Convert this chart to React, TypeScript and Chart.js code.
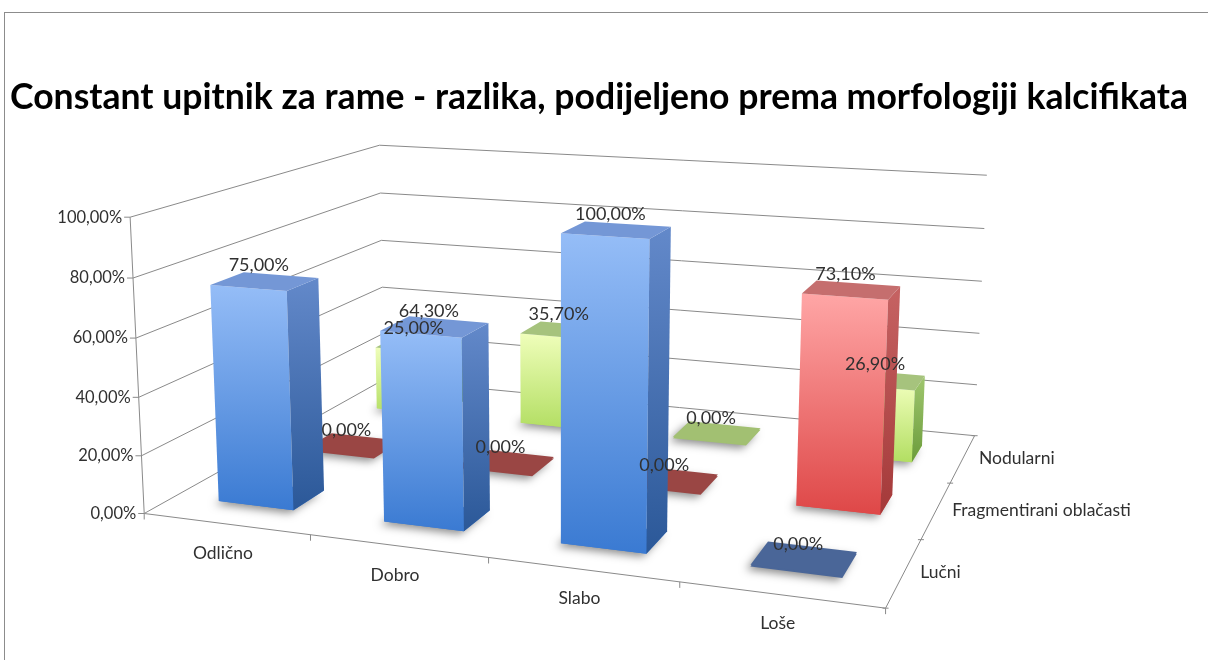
import React, { useEffect, useRef } from 'react';
import { Chart, registerables } from 'chart.js';

Chart.register(...registerables);

// ---------- data ----------
const TITLE = 'Constant upitnik za rame - razlika, podijeljeno prema morfologiji kalcifikata';
const CATEGORIES = ['Odlično', 'Dobro', 'Slabo', 'Loše'];
const SERIES = ['Lučni', 'Fragmentirani oblačasti', 'Nodularni'];
const LUCNI = [75.0, 64.3, 100.0, 0.0];
const FRAGMENTIRANI = [0.0, 0.0, 0.0, 73.1];
const NODULARNI = [25.0, 35.7, 0.0, 26.9];
const Y_TICKS = [0, 20, 40, 60, 80, 100];

// ---------- style ----------
const FONT = 'Lato, "Open Sans", sans-serif';
const GRID = '#8a8a8a';
const TEXT = '#303030';
const BAR_WIDTH = 0.46; // fraction of a category
const BAR_DEPTH = 0.36; // fraction of a series row
const PALETTE = [
  { front: ['#95bdf7', '#3a7ad2'], side: ['#6389ca', '#2b5898'], top: '#7497d6', flat: '#4a6698' },
  { front: ['#ffa6a6', '#de4747'], side: ['#c66363', '#a43939'], top: '#c56e6e', flat: '#9a4644' },
  { front: ['#effeba', '#b2de62'], side: ['#a0c76f', '#6b9b3b'], top: '#a6c37d', flat: '#a2c072' },
];

// view frame of the 3D plot box: [X, Y(depth), Z, screenX, screenY]
const VIEW_FRAME: number[][] = [
  [0, 0, 0, 145, 512], [1, 0, 0, 885, 608], [1, 1, 0, 977, 435], [0, 1, 0, 383, 381],
  [0, 0, 1, 130, 218], [0, 1, 1, 380, 145], [1, 1, 1, 987, 175],
  [0.25, 0, 0, 312, 537], [0.5, 0, 0, 488, 559], [0.75, 0, 0, 679, 584],
  [1, 1 / 3, 0, 922, 538], [1, 2 / 3, 0, 950, 482],
  [1, 1, 0.2, 975, 385], [1, 1, 0.4, 978, 333], [1, 1, 0.6, 982, 282], [1, 1, 0.8, 985, 229],
  [0, 0, 0.2, 142, 453], [0, 0, 0.4, 138, 397], [0, 0, 0.6, 135, 338], [0, 0, 0.8, 133, 278],
  [0, 1, 0.6, 382, 240], [0, 1, 0.4, 382, 287],
];

function fitCamera(pts: number[][]): number[] {
  const N = 11;
  const A: number[][] = Array.from({ length: N }, () => new Array(N).fill(0));
  const b: number[] = new Array(N).fill(0);
  for (const [X, Y, Z, u, v] of pts) {
    const r1 = [X, Y, Z, 1, 0, 0, 0, 0, -u * X, -u * Y, -u * Z];
    const r2 = [0, 0, 0, 0, X, Y, Z, 1, -v * X, -v * Y, -v * Z];
    const rows: [number[], number][] = [[r1, u], [r2, v]];
    for (const [r, rhs] of rows) {
      for (let i = 0; i < N; i++) {
        b[i] += r[i] * rhs;
        for (let j = 0; j < N; j++) A[i][j] += r[i] * r[j];
      }
    }
  }
  for (let c = 0; c < N; c++) {
    let p = c;
    for (let r = c + 1; r < N; r++) if (Math.abs(A[r][c]) > Math.abs(A[p][c])) p = r;
    [A[c], A[p]] = [A[p], A[c]];
    [b[c], b[p]] = [b[p], b[c]];
    for (let r = c + 1; r < N; r++) {
      const f = A[r][c] / A[c][c];
      for (let k = c; k < N; k++) A[r][k] -= f * A[c][k];
      b[r] -= f * b[c];
    }
  }
  const x = new Array(N).fill(0);
  for (let r = N - 1; r >= 0; r--) {
    let s = b[r];
    for (let k = r + 1; k < N; k++) s -= A[r][k] * x[k];
    x[r] = s / A[r][r];
  }
  return x;
}

const CAM = fitCamera(VIEW_FRAME);
function pr(X: number, Y: number, Z: number): [number, number] {
  const P = CAM;
  const w = P[8] * X + P[9] * Y + P[10] * Z + 1;
  return [(P[0] * X + P[1] * Y + P[2] * Z + P[3]) / w, (P[4] * X + P[5] * Y + P[6] * Z + P[7]) / w];
}

const fmt = (v: number) => v.toFixed(2).replace('.', ',') + '%';

function poly(ctx: CanvasRenderingContext2D, pts: [number, number][]) {
  ctx.beginPath();
  pts.forEach((p, k) => (k ? ctx.lineTo(p[0], p[1]) : ctx.moveTo(p[0], p[1])));
  ctx.closePath();
}

function draw3D(chart: any) {
  const ctx: CanvasRenderingContext2D = chart.ctx;
  const xs = chart.scales.x, ys = chart.scales.y, zs = chart.scales.z;
  const nx = (px: number) => (px - xs.left) / (xs.right - xs.left);
  const nz = (py: number) => (ys.bottom - py) / (ys.bottom - ys.top);
  const ny = (px: number) => (px - zs.left) / (zs.right - zs.left);

  ctx.save();
  ctx.lineWidth = 1;
  ctx.strokeStyle = GRID;

  // walls: gridlines on side wall and back wall, y ticks and labels
  ctx.font = `16.5px ${FONT}`;
  ctx.fillStyle = TEXT;
  ctx.textAlign = 'right';
  ctx.textBaseline = 'middle';
  for (const t of ys.ticks) {
    const Z = nz(ys.getPixelForValue(t.value));
    const a = pr(0, 0, Z), b2 = pr(0, 1, Z), c = pr(1, 1, Z);
    ctx.beginPath();
    ctx.moveTo(a[0], a[1]);
    ctx.lineTo(b2[0], b2[1]);
    ctx.lineTo(c[0], c[1]);
    ctx.stroke();
    ctx.beginPath();
    ctx.moveTo(a[0], a[1]);
    ctx.lineTo(a[0] - 6, a[1]);
    ctx.stroke();
    ctx.fillText(fmt(t.value), a[0] - 8, a[1]);
  }
  // value axis line
  {
    const a = pr(0, 0, 0), b2 = pr(0, 0, 1);
    ctx.beginPath();
    ctx.moveTo(a[0], a[1]);
    ctx.lineTo(b2[0], b2[1]);
    ctx.stroke();
  }
  // floor edges (category axis and series axis)
  {
    const a = pr(0, 0, 0), b2 = pr(1, 0, 0), c = pr(1, 1, 0);
    ctx.beginPath();
    ctx.moveTo(a[0], a[1]);
    ctx.lineTo(b2[0], b2[1]);
    ctx.lineTo(c[0], c[1]);
    ctx.stroke();
  }
  // category ticks & labels
  const nCat = CATEGORIES.length;
  ctx.textAlign = 'center';
  ctx.font = `17.5px ${FONT}`;
  for (let i = 0; i <= nCat; i++) {
    let px: number;
    if (i === 0) px = xs.left;
    else if (i === nCat) px = xs.right;
    else px = (xs.getPixelForValue(i - 1) + xs.getPixelForValue(i)) / 2;
    const p = pr(nx(px), 0, 0);
    ctx.beginPath();
    ctx.moveTo(p[0], p[1]);
    ctx.lineTo(p[0], p[1] + 6);
    ctx.stroke();
  }
  CATEGORIES.forEach((lab, i) => {
    const p = pr(nx(xs.getPixelForValue(i)), 0, 0);
    ctx.fillText(lab, p[0] - 3, p[1] + 29);
  });
  // series ticks & labels
  const nSer = SERIES.length;
  for (let s = 0; s <= nSer; s++) {
    let px: number;
    if (s === 0) px = zs.left;
    else if (s === nSer) px = zs.right;
    else px = (zs.getPixelForValue(s - 1) + zs.getPixelForValue(s)) / 2;
    const p = pr(1, ny(px), 0);
    ctx.beginPath();
    ctx.moveTo(p[0] - 3, p[1]);
    ctx.lineTo(p[0] + 3, p[1]);
    ctx.stroke();
  }
  ctx.textAlign = 'left';
  SERIES.forEach((lab, s) => {
    const p = pr(1, ny(zs.getPixelForValue(s)), 0);
    ctx.fillText(lab, p[0] + 16, p[1]);
  });

  // bars
  const rowPitch = ny(zs.getPixelForValue(1)) - ny(zs.getPixelForValue(0));
  const bars: any[] = [];
  chart.data.datasets.forEach((ds: any, s: number) => {
    const meta = chart.getDatasetMeta(s);
    const Yc = ny(zs.getPixelForValue(s));
    meta.data.forEach((el: any, i: number) => {
      const { x, y, base, width } = el.getProps(['x', 'y', 'base', 'width'], true);
      bars.push({
        s, i, value: ds.data[i],
        X0: nx(x - width / 2), X1: nx(x + width / 2),
        Y0: Yc - (rowPitch * BAR_DEPTH) / 2, Y1: Yc + (rowPitch * BAR_DEPTH) / 2,
        Z0: nz(base), Z1: nz(y),
      });
    });
  });
  bars.sort((a, b) => b.Y0 - a.Y0 || a.X0 - b.X0);

  for (const bar of bars) {
    const { s, X0, X1, Y0, Y1, Z0 } = bar;
    const flat = bar.Z1 - Z0 < 0.005;
    const Z1 = flat ? Z0 + 0.006 : bar.Z1;
    const col = PALETTE[s];
    const f00 = pr(X0, Y0, Z0), f10 = pr(X1, Y0, Z0), f11 = pr(X1, Y0, Z1), f01 = pr(X0, Y0, Z1);
    const b10 = pr(X1, Y1, Z0), b11 = pr(X1, Y1, Z1), b01 = pr(X0, Y1, Z1), b00 = pr(X0, Y1, Z0);

    // shadow on the floor
    ctx.save();
    ctx.shadowColor = 'rgba(0,0,0,0.45)';
    ctx.shadowBlur = 9;
    ctx.shadowOffsetX = -4;
    ctx.shadowOffsetY = 3;
    poly(ctx, [f00, f10, b10, b00]);
    ctx.fillStyle = flat ? col.flat : col.front[1];
    ctx.fill();
    ctx.restore();

    if (flat) {
      poly(ctx, [f01, f11, b11, b01]);
      ctx.fillStyle = col.flat;
      ctx.fill();
      continue;
    }
    // front face
    let g = ctx.createLinearGradient(0, Math.min(f01[1], f11[1]), 0, Math.max(f00[1], f10[1]));
    g.addColorStop(0, col.front[0]);
    g.addColorStop(1, col.front[1]);
    poly(ctx, [f00, f10, f11, f01]);
    ctx.fillStyle = g;
    ctx.fill();
    // side face
    g = ctx.createLinearGradient(0, Math.min(f11[1], b11[1]), 0, Math.max(f10[1], b10[1]));
    g.addColorStop(0, col.side[0]);
    g.addColorStop(1, col.side[1]);
    poly(ctx, [f10, b10, b11, f11]);
    ctx.fillStyle = g;
    ctx.fill();
    // top face
    poly(ctx, [f01, f11, b11, b01]);
    ctx.fillStyle = col.top;
    ctx.fill();
  }

  // value labels
  ctx.font = `18px ${FONT}`;
  ctx.fillStyle = TEXT;
  ctx.textAlign = 'center';
  ctx.textBaseline = 'middle';
  for (const bar of bars) {
    const p = pr((bar.X0 + bar.X1) / 2, (bar.Y0 + bar.Y1) / 2, Math.max(bar.Z1, bar.Z0));
    ctx.fillText(fmt(bar.value), p[0] - 6, p[1] - 16);
  }
  ctx.restore();
}

const plot3D = {
  id: 'plot3D',
  beforeDraw(chart: any) {
    const ctx = chart.ctx;
    ctx.save();
    ctx.fillStyle = '#ffffff';
    ctx.fillRect(0, 0, chart.width, chart.height);
    ctx.strokeStyle = '#8c8c8c';
    ctx.lineWidth = 1;
    ctx.strokeRect(4.5, 12.5, chart.width + 20, chart.height + 20);
    ctx.restore();
  },
  beforeDatasetsDraw(chart: any) {
    draw3D(chart);
    return false;
  },
};

export default function App() {
  const ref = useRef<HTMLCanvasElement>(null);
  useEffect(() => {
    const m = document.createElement('canvas').getContext('2d')!;
    m.font = `bold 30px ${FONT}`;
    const titleSize = (30 * 1185) / m.measureText(TITLE).width;
    const lineH = titleSize * 1.2;
    const chart = new Chart(ref.current!, {
      type: 'bar',
      data: {
        labels: CATEGORIES,
        datasets: [
          { label: SERIES[0], data: LUCNI, backgroundColor: PALETTE[0].front[1] },
          { label: SERIES[1], data: FRAGMENTIRANI, backgroundColor: PALETTE[1].front[1] },
          { label: SERIES[2], data: NODULARNI, backgroundColor: PALETTE[2].front[1] },
        ],
      },
      options: {
        animation: false,
        responsive: false,
        layout: { padding: { left: 10, right: 20, top: 0, bottom: 10 } },
        datasets: { bar: { grouped: false, categoryPercentage: 1, barPercentage: BAR_WIDTH } },
        plugins: {
          legend: { display: false },
          tooltip: { enabled: false },
          title: {
            display: true,
            text: TITLE,
            align: 'start',
            color: '#000000',
            font: { family: FONT, weight: 'bold', size: titleSize, lineHeight: 1.2 },
            padding: { top: 97 - lineH / 2, bottom: 10 },
          },
        },
        scales: {
          x: { display: false, offset: true },
          y: {
            display: false, min: 0, max: 100,
            afterBuildTicks: (s: any) => { s.ticks = Y_TICKS.map((v) => ({ value: v })); },
          },
          z: { type: 'category', axis: 'x', position: 'top', display: false, offset: true, labels: SERIES },
        },
      } as any,
      plugins: [plot3D],
    });
    return () => chart.destroy();
  }, []);
  return (
    <div style={{ position: 'fixed', left: 0, top: 0, width: 1208, height: 660 }}>
      <canvas ref={ref} width={1208} height={660} style={{ display: 'block' }} />
    </div>
  );
}
